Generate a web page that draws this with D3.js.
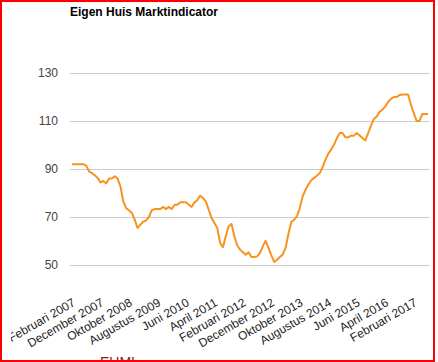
<!DOCTYPE html>
<html>
<head>
<meta charset="utf-8">
<script src="https://cdn.jsdelivr.net/npm/d3@7"></script>
<style>
  html, body { margin: 0; padding: 0; background: #fff; }
  svg { display: block; font-family: Arial, "Liberation Sans", sans-serif; }
</style>
</head>
<body>
<svg id="chart" width="438" height="362"></svg>
<script>
  const W = 438;
  const H = 362;

  const MONTHS = ['Januari', 'Februari', 'Maart', 'April', 'Mei', 'Juni', 'Juli',
    'Augustus', 'September', 'Oktober', 'November', 'December'];
  const START_YEAR = 2007;
  const START_MONTH = 1; // februari

  // Eigen Huis Marktindicator, maandelijks feb 2007 - jul 2017
  const values = [
    92, 92, 92, 92, 92, 91.4, 89, 88.3, 87.4, 86.3,
    84.4, 85, 84, 86, 86, 87, 86, 82.8, 76.5, 73.7,
    72.8, 71.7, 69, 65.4, 66.8, 68, 68.6, 70, 72.8, 73.3,
    73.3, 73.3, 74.2, 73.3, 74.2, 73.3, 75.1, 75.1, 76.1, 76.1,
    76.1, 75.1, 74.2, 76.1, 77, 78.9, 77.9, 76.5, 73, 69.6,
    67.5, 65.4, 59.2, 57.4, 62, 66.1, 67.1, 62, 58.2, 56.4,
    55.3, 54.3, 55.3, 53.3, 53.3, 53.6, 55, 57.8, 60.1, 57.1,
    54, 51.3, 52.2, 53.3, 54.4, 57.1, 63, 67.9, 68.9, 70.3,
    73.8, 78.6, 81.4, 83.5, 85.3, 86.3, 87.2, 88.3, 90.8, 93.9,
    96.4, 98.1, 100.1, 102.9, 105, 105, 103.2, 103.2, 103.9, 103.9,
    105, 104, 102.9, 101.9, 105, 108.2, 110.8, 111.9, 113.8, 114.7,
    116.1, 117.9, 119.2, 120, 120, 120.8, 121, 121, 121, 116.8,
    113.3, 110, 110, 112.9, 112.9, 112.9
  ];

  const months = values.map((_, i) => {
    const m = START_MONTH + i;
    return MONTHS[m % 12] + ' ' + (START_YEAR + Math.floor(m / 12));
  });

  const yTicks = [50, 70, 90, 110, 130];
  const TICK_EVERY = 10;
  const xTickLabels = months.filter((_, i) => i % TICK_EVERY === 0);

  const svg = d3.select('#chart');

  const x = d3.scalePoint().domain(months).range([72, 428]);
  const y = d3.scaleLinear().domain([50, 130]).range([265, 73]);

  // grid
  svg.append('g')
    .selectAll('line')
    .data(yTicks)
    .join('line')
    .attr('x1', 70)
    .attr('x2', 430)
    .attr('y1', d => Math.round(y(d)) + 0.5)
    .attr('y2', d => Math.round(y(d)) + 0.5)
    .attr('stroke', '#cccccc')
    .attr('stroke-width', 1);

  svg.append('g')
    .selectAll('text')
    .data(yTicks)
    .join('text')
    .attr('x', 58)
    .attr('y', d => y(d))
    .attr('dy', '0.35em')
    .attr('text-anchor', 'end')
    .attr('font-size', 12)
    .attr('fill', '#444')
    .text(d => d);

  // line
  const line = d3.line()
    .x((d, i) => x(months[i]))
    .y(d => y(d));

  svg.append('path')
    .datum(values)
    .attr('fill', 'none')
    .attr('stroke', '#f7931e')
    .attr('stroke-width', 2)
    .attr('stroke-linejoin', 'round')
    .attr('d', line);

  // x labels, clipped at the left edge of the container
  svg.append('clipPath')
    .attr('id', 'clipx')
    .append('rect')
    .attr('x', 11).attr('y', 0).attr('width', W).attr('height', H);

  svg.append('g')
    .attr('clip-path', 'url(#clipx)')
    .selectAll('text')
    .data(xTickLabels)
    .join('text')
    .attr('transform', d => `translate(${x(d) + 4},305) rotate(-30)`)
    .attr('text-anchor', 'end')
    .attr('font-size', 12)
    .attr('fill', '#222')
    .text(d => d);

  // title
  svg.append('text')
    .attr('x', 70)
    .attr('y', 16)
    .attr('font-size', 12)
    .attr('font-weight', 'bold')
    .attr('fill', '#000')
    .text('Eigen Huis Marktindicator');

  // text below the chart, cut off by the frame as in the original
  svg.append('text')
    .attr('x', 100)
    .attr('y', 367)
    .attr('font-size', 14)
    .attr('fill', '#8b1a1a')
    .text('EUMI');

  // red frame
  svg.append('rect')
    .attr('x', 1)
    .attr('y', 1)
    .attr('width', 433)
    .attr('height', 360)
    .attr('fill', 'none')
    .attr('stroke', '#ff0000')
    .attr('stroke-width', 2);
</script>
</body>
</html>
